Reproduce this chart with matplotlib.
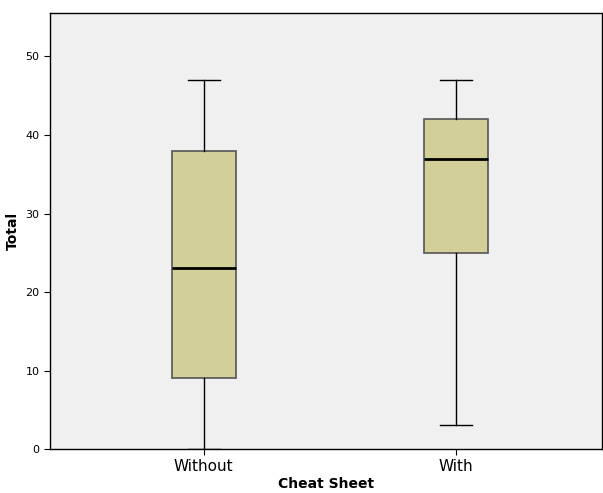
import matplotlib.pyplot as plt

groups = ["Without", "With"]
lows = [0, 3]
q1s = [9, 25]
medians = [23, 37]
q3s = [38, 42]
highs = [47, 47]

stats = [
    {"label": g, "whislo": lo, "q1": a, "med": m, "q3": b, "whishi": hi, "fliers": []}
    for g, lo, a, m, b, hi in zip(groups, lows, q1s, medians, q3s, highs)
]

fig = plt.figure(figsize=(6.03, 4.93), dpi=100)
ax = fig.add_axes([0.083, 0.0892, 0.915, 0.8854])
ax.set_facecolor("#F0F0F0")

ax.bxp(
    stats,
    positions=[1, 2],
    widths=0.254,
    patch_artist=True,
    boxprops=dict(facecolor="#D3CF98", edgecolor="#555555", linewidth=1.2),
    medianprops=dict(color="black", linewidth=2),
    whiskerprops=dict(color="black", linewidth=1),
    capprops=dict(color="black", linewidth=1),
)

ax.set_xlim(0.39, 2.58)
ax.set_ylim(0, 55.6)
ax.set_yticks([0, 10, 20, 30, 40, 50])
ax.tick_params(axis="y", labelsize=8, length=4)
ax.tick_params(axis="x", labelsize=11, length=4)
ax.set_xticks([1, 2])
ax.set_xticklabels(groups)
ax.set_ylabel("Total", fontsize=10, fontweight="bold")
ax.set_xlabel("Cheat Sheet", fontsize=10, fontweight="bold", labelpad=2)
for s in ax.spines.values():
    s.set_linewidth(1)

fig.savefig("out.png", dpi=100)
